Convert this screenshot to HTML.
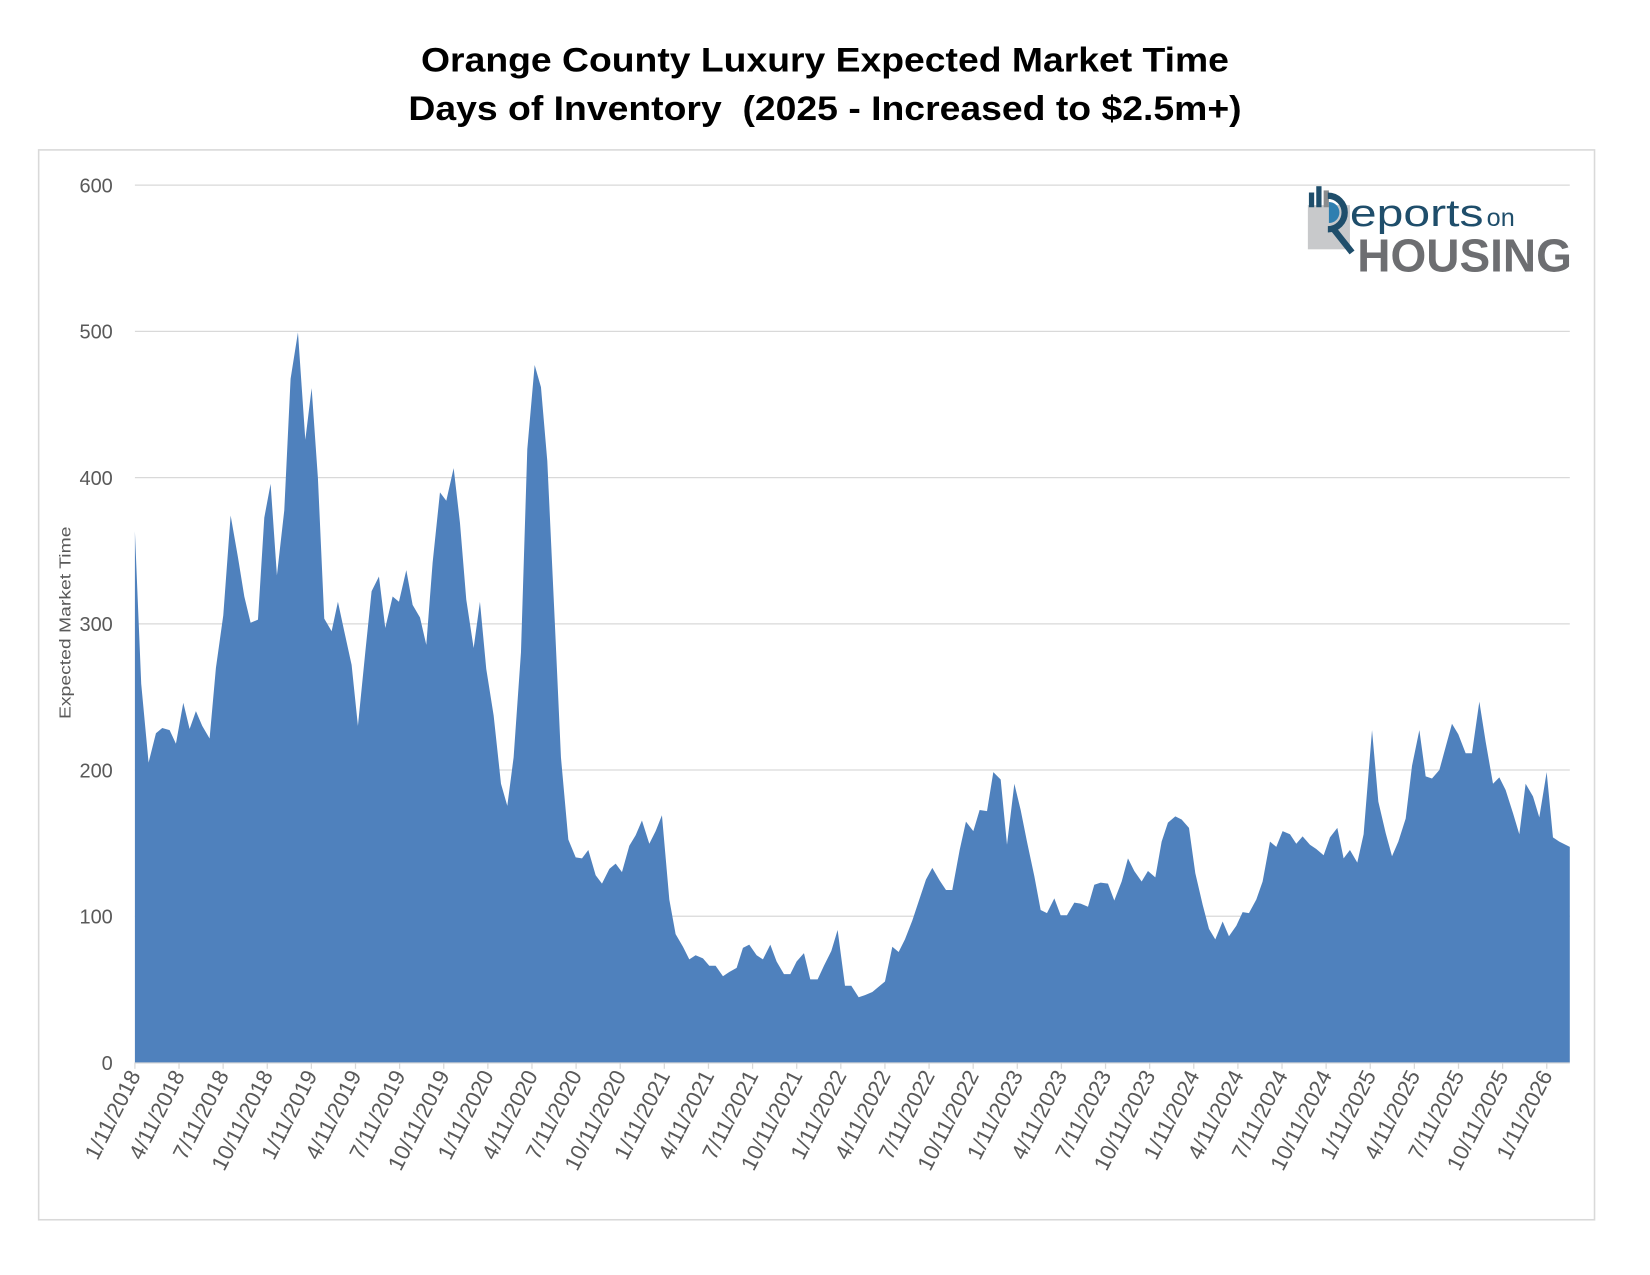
<!DOCTYPE html>
<html><head><meta charset="utf-8"><style>html,body{margin:0;padding:0;background:#fff}svg{display:block}</style></head>
<body>
<svg width="1650" height="1275" viewBox="0 0 1568 1212" xmlns="http://www.w3.org/2000/svg" font-family="Liberation Sans, Arial, sans-serif">
<rect x="0" y="0" width="1568" height="1212" fill="#fff"/>
<text x="784" y="68" text-anchor="middle" font-size="33" font-weight="bold" fill="#000" textLength="768" lengthAdjust="spacingAndGlyphs">Orange County Luxury Expected Market Time</text>
<text x="784" y="114" text-anchor="middle" font-size="33" font-weight="bold" fill="#000" textLength="792" lengthAdjust="spacingAndGlyphs" xml:space="preserve">Days of Inventory  (2025 - Increased to $2.5m+)</text>
<rect x="36.5" y="142.5" width="1479" height="1017" fill="none" stroke="#d9d9d9" stroke-width="1.5"/>
<g stroke="#d9d9d9" stroke-width="1.2">
<line x1="128" x2="1492" y1="176" y2="176"/><line x1="128" x2="1492" y1="315" y2="315"/><line x1="128" x2="1492" y1="454" y2="454"/><line x1="128" x2="1492" y1="593" y2="593"/><line x1="128" x2="1492" y1="732" y2="732"/><line x1="128" x2="1492" y1="871" y2="871"/>
</g>
<g font-size="19" fill="#595959" text-anchor="end">
<text x="107" y="183">600</text><text x="107" y="322">500</text><text x="107" y="461">400</text><text x="107" y="600">300</text><text x="107" y="739">200</text><text x="107" y="878">100</text><text x="107" y="1017">0</text>
</g>
<text transform="translate(67,592) rotate(-90)" text-anchor="middle" font-size="15" fill="#595959" textLength="183" lengthAdjust="spacingAndGlyphs">Expected Market Time</text>
<polygon fill="#4f81bd" points="128,505 134,650 141,725 148,697 154,692 161,694 167,707 174,668 180,693 186,676 192,690 199,702 205,635 212,585 219,490 226,530 232,567 238,592 245,589 251,492 257,460 263,547 270,485 276,360 283,316 290,418 296,369 302,455 308,588 315,600 321,572 327,600 334,632 340,690 347,620 353,562 360,548 366,597 373,567 379,572 386,542 392,575 399,587 405,613 411,535 418,468 424,476 431,445 437,497 443,570 450,616 456,572 462,636 469,680 476,745 482,766 488,720 495,620 501,427 508,347 514,368 520,438 527,588 533,720 540,798 547,815 553,816 559,808 566,832 572,840 579,826 585,821 591,829 598,804 604,794 610,780 617,802 623,790 629,775 636,855 642,888 649,900 655,912 661,908 668,911 674,918 680,918 687,928 693,924 700,920 706,901 712,898 719,908 725,912 732,898 738,914 745,926 751,926 757,914 764,906 770,931 777,931 783,918 790,904 796,884 803,937 809,937 816,948 822,946 829,943 835,938 841,933 848,900 854,905 860,893 867,875 873,857 880,836 886,825 893,837 899,846 905,846 912,808 918,781 925,790 931,770 938,771 944,734 951,741 957,803 964,745 970,770 976,800 983,833 989,865 995,868 1002,854 1008,870 1014,870 1021,858 1027,859 1034,862 1040,841 1046,839 1053,840 1059,856 1066,838 1072,816 1078,828 1085,838 1091,828 1098,834 1104,800 1110,782 1117,776 1123,779 1130,787 1136,830 1143,860 1149,883 1155,893 1162,876 1168,890 1175,880 1181,867 1187,868 1194,855 1200,838 1207,800 1213,805 1219,790 1226,793 1232,802 1238,795 1245,803 1251,807 1258,813 1264,796 1271,787 1277,816 1283,808 1290,820 1296,793 1304,694 1310,762 1317,792 1323,814 1329,800 1336,778 1342,728 1349,694 1355,738 1361,740 1368,732 1374,710 1380,688 1386,698 1393,716 1399,716 1406,667 1412,705 1419,745 1425,739 1431,751 1438,773 1444,793 1450,745 1457,757 1463,777 1470,734 1476,796 1482,800 1492,805 1492,1010 128,1010"/>
<line x1="128" x2="1492" y1="1010.5" y2="1010.5" stroke="#d9d9d9" stroke-width="1.2"/>
<g id="ticks" stroke="#d9d9d9" stroke-width="1.2"></g>
<g id="labels" font-size="21" fill="#595959" text-anchor="end"></g>
<!-- logo -->
<rect x="1243" y="195" width="40" height="42" fill="#c8c9cb"/>
<rect x="1244" y="183" width="5" height="14" fill="#1f4e6b"/>
<rect x="1251" y="177" width="5" height="20" fill="#1f4e6b"/>
<rect x="1258" y="181" width="5" height="16" fill="#8a8c8e"/>
<path d="M1262,186 a16,16 0 1,1 0,32" fill="none" stroke="#1f4e6b" stroke-width="6"/>
<path d="M1263,192 a10,10 0 0,1 0,20 z" fill="#2f7fb0"/>
<line x1="1266" y1="216" x2="1285" y2="240" stroke="#1f4e6b" stroke-width="6"/>
<text x="1283" y="215" font-size="36" fill="#1f4e6b" textLength="127" lengthAdjust="spacingAndGlyphs">eports</text>
<text x="1413" y="215" font-size="24" fill="#1f4e6b">on</text>
<text x="1290" y="258" font-size="44" font-weight="bold" fill="#6d6e71" textLength="204" lengthAdjust="spacingAndGlyphs">HOUSING</text>
<script>
var t=document.getElementById('ticks'),l=document.getElementById('labels');
var ns='http://www.w3.org/2000/svg';
var m=['1','4','7','10'];
for(var k=0;k<=32;k++){var x=128+k*41.94;
var ln=document.createElementNS(ns,'line');ln.setAttribute('x1',x);ln.setAttribute('x2',x);ln.setAttribute('y1',1010);ln.setAttribute('y2',1016);t.appendChild(ln);
var tx=document.createElementNS(ns,'text');tx.setAttribute('transform','translate('+(x+6)+',1022) rotate(-63)');
tx.textContent=m[k%4]+'/11/'+(2018+Math.floor(k/4));l.appendChild(tx);}
</script>
</svg>
</body></html>
